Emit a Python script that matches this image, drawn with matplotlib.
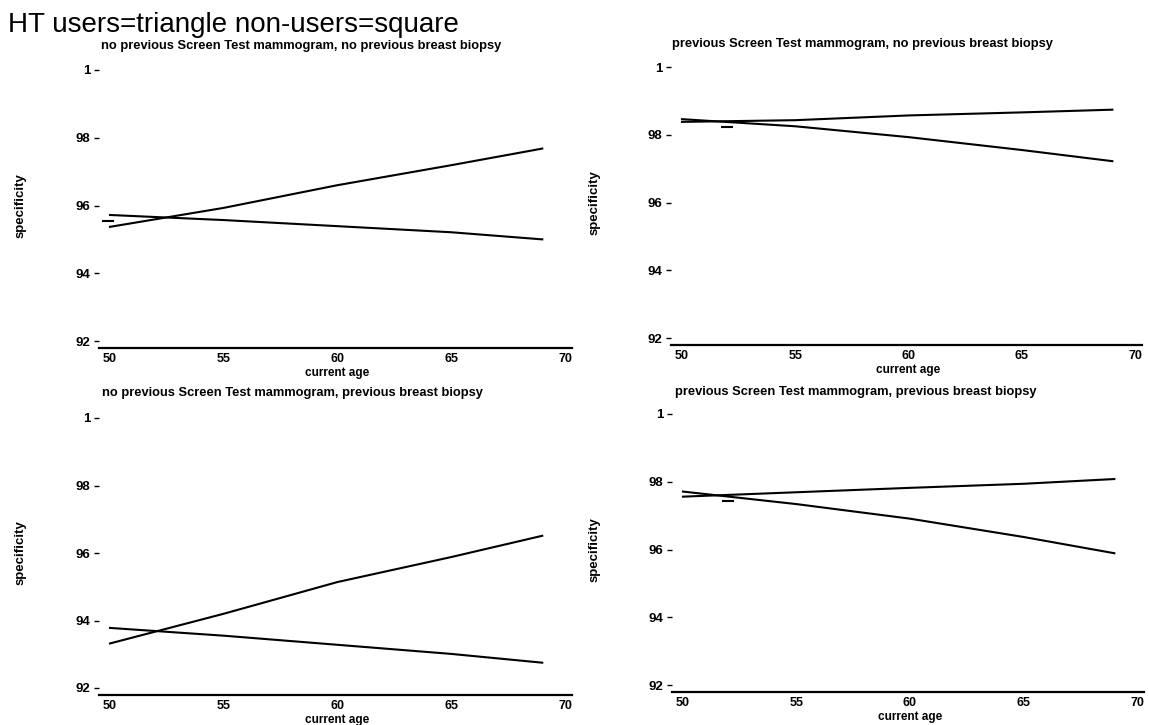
import matplotlib
matplotlib.use("Agg")
import matplotlib.pyplot as plt

plt.rcParams['font.family'] = ['Liberation Sans', 'DejaVu Sans']

ages = [50, 55, 60, 65, 69]

titles = [
    "no previous Screen Test mammogram, no previous breast biopsy",
    "previous Screen Test mammogram, no previous breast biopsy",
    "no previous Screen Test mammogram, previous breast biopsy",
    "previous Screen Test mammogram, previous breast biopsy",
]

# specificity (%) per panel, two series each
rising = [
    [95.37, 95.93, 96.60, 97.19, 97.68],
    [98.38, 98.43, 98.57, 98.66, 98.74],
    [93.32, 94.20, 95.14, 95.88, 96.51],
    [97.56, 97.69, 97.82, 97.94, 98.08],
]
falling = [
    [95.72, 95.57, 95.39, 95.21, 95.00],
    [98.46, 98.25, 97.93, 97.55, 97.22],
    [93.78, 93.55, 93.28, 93.01, 92.75],
    [97.71, 97.34, 96.91, 96.37, 95.89],
]

# small observed symbols visible near the start of the curves
sym_age = [[49.9], [52.0], [], [52.0]]
sym_val = [[95.55], [98.22], [], [97.43]]

yticks = [92, 94, 96, 98, 100]
ytick_labels = ["92", "94", "96", "98", "1"]
xticks = [50, 55, 60, 65, 70]

W, H = 1149, 725
fig = plt.figure(figsize=(W / 100, H / 100), dpi=100)

# pixel anchors: x(50), x(70), y(100), y(92)
anchors = [
    (110, 565, 70, 341),
    (682, 1135, 67, 338),
    (110, 565, 418, 688),
    (683, 1137, 414, 685),
]
title_pos = [(301, 46), (862, 44), (292, 393), (856, 392)]
ylabel_x = [21, 595, 21, 595]

XLO, XHI = 49.5, 70.3
YLO, YHI = 91.8, 100.2

for i, (x50, x70, y100, y92) in enumerate(anchors):
    s = (x70 - x50) / 20.0
    t = (y92 - y100) / 8.0
    left = x50 - (50 - XLO) * s
    right = x70 + (XHI - 70) * s
    bottom = y92 + (92 - YLO) * t
    top = y100 - (YHI - 100) * t
    ax = fig.add_axes([left / W, 1 - bottom / H, (right - left) / W, (bottom - top) / H])
    ax.plot(ages, rising[i], color='black', lw=1.5)
    ax.plot(ages, falling[i], color='black', lw=1.5)
    if sym_age[i]:
        ax.plot(sym_age[i], sym_val[i], linestyle='none', marker='_',
                markersize=8, mew=1.5, color='black')
    ax.set_xlim(XLO, XHI)
    ax.set_ylim(YLO, YHI)
    for sp in ['top', 'right', 'left']:
        ax.spines[sp].set_visible(False)
    ax.spines['bottom'].set_linewidth(1.6)
    ax.set_xticks(xticks)
    ax.set_xticklabels([str(v) for v in xticks], fontsize=9, fontweight='bold')
    ax.tick_params(axis='x', length=0, pad=4)
    ax.set_yticks(yticks)
    ax.set_yticklabels(ytick_labels, fontsize=9.5, fontweight='bold')
    ax.tick_params(axis='y', length=3.5, width=1, pad=2.5, direction='out')
    ax.set_facecolor('none')
    cx = (x50 + x70) / 2.0
    tx, ty = title_pos[i]
    fig.text(tx / W, 1 - ty / H, titles[i],
             ha='center', va='center', fontsize=9.3, fontweight='bold')
    fig.text(cx / W, 1 - (bottom + 25) / H, "current age",
             ha='center', va='center', fontsize=8.5, fontweight='bold')
    fig.text(ylabel_x[i] / W, 1 - ((y100 + y92) / 2) / H, "specificity",
             rotation=90, ha='center', va='center', fontsize=9.5, fontweight='bold')

fig.text(8 / W, 1 - 25 / H, "HT users=triangle non-users=square",
         ha='left', va='center', fontsize=20)

fig.savefig("out.png", dpi=100, facecolor='white')
